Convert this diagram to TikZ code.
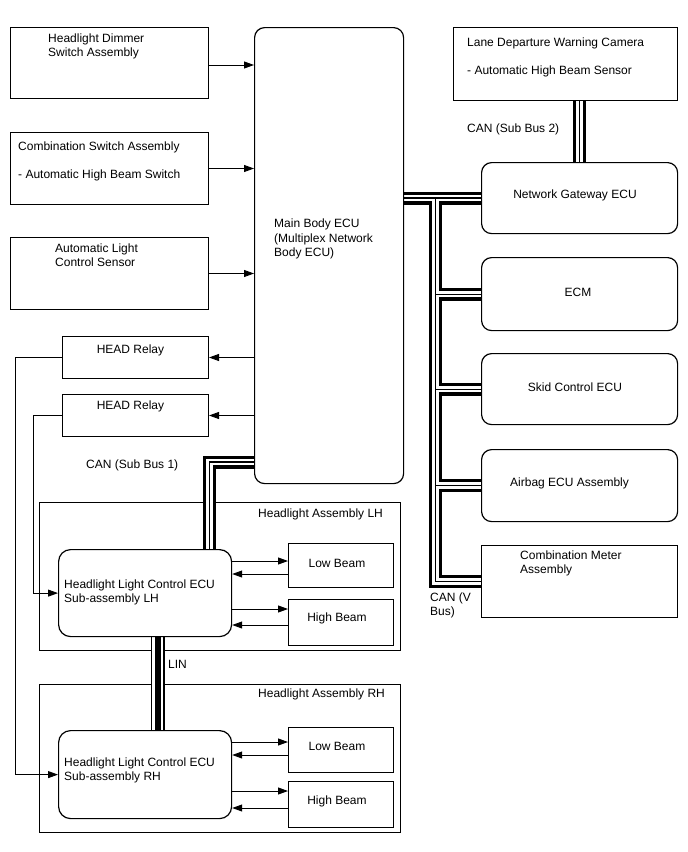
\documentclass[tikz,border=0pt]{standalone}
\usepackage{fontspec}
\setmainfont{Liberation Sans}
\usetikzlibrary{arrows.meta}
\pgfdeclarelayer{bgfill}
\pgfdeclarelayer{back}
\pgfdeclarelayer{buslayer}
\pgfsetlayers{bgfill,back,buslayer,main}
\begin{document}
\begin{tikzpicture}[x=1pt,y=-1pt,
  box/.style={draw, line width=1pt, inner sep=0pt, anchor=north west},
  rbox/.style={box, rounded corners=10pt, line width=1.2pt},
  txt/.style={inner sep=0pt, anchor=base west, font=\fontsize{12}{14}\selectfont},
  ctxt/.style={txt, anchor=base},
  arr/.style={line width=0.9pt, -{Triangle[length=10pt,width=7pt]}},
  wire/.style={line width=0.9pt},
]
\path[use as bounding box] (0,0) rectangle (688,852);
\begin{pgfonlayer}{bgfill}
\fill[white] (0,0) rectangle (688,852);
\end{pgfonlayer}

% containers (behind buses)
\begin{pgfonlayer}{back}
\node[box, minimum width=361pt, minimum height=148pt] (asmL) at (39,502) {};
\node[box, minimum width=361pt, minimum height=148pt] (asmR) at (39,684) {};
\end{pgfonlayer}

% boxes
\node[box, minimum width=198pt, minimum height=71pt] (dim) at (10,27) {};
\node[box, minimum width=198pt, minimum height=72pt] (comb) at (10,132) {};
\node[box, minimum width=198pt, minimum height=72pt] (sens) at (10,237) {};
\node[box, minimum width=146pt, minimum height=42pt] (rel1) at (62,336) {};
\node[box, minimum width=146pt, minimum height=42pt] (rel2) at (62,394) {};
\node[rbox, minimum width=149pt, minimum height=456pt] (main) at (254,27) {};
\node[box, minimum width=224pt, minimum height=73pt] (ldw) at (453,27) {};
\node[rbox, minimum width=196pt, minimum height=71pt] (gw) at (481,162) {};
\node[rbox, minimum width=196pt, minimum height=73pt] (ecm) at (481,257) {};
\node[rbox, minimum width=196pt, minimum height=71pt] (skid) at (481,353) {};
\node[rbox, minimum width=196pt, minimum height=72pt] (air) at (481,449) {};
\node[box, minimum width=196pt, minimum height=72pt] (cmb) at (481,545) {};
\node[rbox, rounded corners=12pt, minimum width=173pt, minimum height=87pt] (ecuL) at (58,549) {};
\node[box, minimum width=105pt, minimum height=44pt] (lbL) at (288,543) {};
\node[box, minimum width=105pt, minimum height=46pt] (hbL) at (288,599) {};
\node[rbox, rounded corners=12pt, minimum width=173pt, minimum height=88pt] (ecuR) at (58,730) {};
\node[box, minimum width=105pt, minimum height=45pt] (lbR) at (288,727) {};
\node[box, minimum width=105pt, minimum height=46pt] (hbR) at (288,781) {};

% junction coordinates
\coordinate (j1) at (435.5,198);
\coordinate (sb1) at (209.5,462);
\coordinate (lin) at (157.5,640);
\coordinate (w1) at (15,0);
\coordinate (w2) at (33,0);

% buses
\begin{pgfonlayer}{buslayer}
\foreach \w/\c in {13pt/black, 6.6pt/white, 1.2pt/black}{
  \draw[line width=\w, draw=\c, line join=miter]
    (main.east |- j1) -- (gw.west |- j1)
    (j1) -- (j1 |- cmb.west) -- (cmb.west)
    (j1 |- ecm.west) -- (ecm.west)
    (j1 |- skid.west) -- (skid.west)
    (j1 |- air.west) -- (air.west)
    (gw.north |- ldw.south) -- (gw.north)
    (main.west |- sb1) -- (sb1) -- (sb1 |- ecuL.north);
}
\foreach \w/\c in {14pt/black, 11.4pt/white, 6pt/black}{
  \draw[line width=\w, draw=\c] (lin |- ecuL.south) -- (lin |- ecuR.north);
}
\end{pgfonlayer}

% input arrows
\coordinate (a1) at (254,65);
\draw[arr] (dim.east |- a1) -- (a1);
\draw[arr] (comb.east) -- (main.west |- comb.east);
\draw[arr] (sens.east) -- (main.west |- sens.east);
\draw[arr] (main.west |- rel1.east) -- (rel1.east);
\draw[arr] (main.west |- rel2.east) -- (rel2.east);

% relay wires
\draw[arr] (rel1.west) -- (rel1.west -| w1) -- (w1 |- ecuR.west) -- (ecuR.west);
\draw[arr] (rel2.west) -- (rel2.west -| w2) -- (w2 |- ecuL.west) -- (ecuL.west);

% beam arrows
\coordinate (b1) at (288,561);
\coordinate (b2) at (288,574);
\coordinate (b3) at (288,609);
\coordinate (b4) at (288,625);
\coordinate (b5) at (288,742);
\coordinate (b6) at (288,755);
\coordinate (b7) at (288,791);
\coordinate (b8) at (288,808);
\draw[arr] (ecuL.east |- b1) -- (b1);
\draw[arr] (b2) -- (ecuL.east |- b2);
\draw[arr] (ecuL.east |- b3) -- (b3);
\draw[arr] (b4) -- (ecuL.east |- b4);
\draw[arr] (ecuR.east |- b5) -- (b5);
\draw[arr] (b6) -- (ecuR.east |- b6);
\draw[arr] (ecuR.east |- b7) -- (b7);
\draw[arr] (b8) -- (ecuR.east |- b8);

% texts
\node[txt] (t1) at (48,42) {Headlight Dimmer};
\node[txt] (t2) at (48,56) {Switch Assembly};
\node[txt] (t3) at (18,150) {Combination Switch Assembly};
\node[txt] (t4) at (18,178) {- Automatic High Beam Switch};
\node[txt] (t5) at (55,252) {Automatic Light};
\node[txt] (t6) at (55,266) {Control Sensor};
\node[ctxt] (t7) at (130.5,353) {HEAD Relay};
\node[ctxt] (t8) at (130.5,409) {HEAD Relay};
\node[txt] (t9) at (274,227) {Main Body ECU};
\node[txt] (t10) at (274,242) {(Multiplex Network};
\node[txt] (t11) at (274,256) {Body ECU)};
\node[txt] (t12) at (467,46) {Lane Departure Warning Camera};
\node[txt] (t13) at (467,74) {- Automatic High Beam Sensor};
\node[txt] (t14) at (467,132) {CAN (Sub Bus 2)};
\node[ctxt] (t15) at (575,198) {Network Gateway ECU};
\node[ctxt] (t16) at (578,296) {ECM};
\node[ctxt] (t17) at (575,391) {Skid Control ECU};
\node[txt] (t18) at (510,486) {Airbag ECU Assembly};
\node[txt] (t19) at (520,559) {Combination Meter};
\node[txt] (t20) at (520,573) {Assembly};
\node[txt] (t21) at (430,601) {CAN (V};
\node[txt] (t22) at (430,615) {Bus)};
\node[txt] (t23) at (86,468) {CAN (Sub Bus 1)};
\node[txt] (t24) at (258,517) {Headlight Assembly LH};
\node[txt] (t25) at (64,588) {Headlight Light Control ECU};
\node[txt] (t26) at (64,602) {Sub-assembly LH};
\node[ctxt] (t27) at (337,567) {Low Beam};
\node[ctxt] (t28) at (337,621) {High Beam};
\node[txt] (t29) at (168,668) {LIN};
\node[txt] (t30) at (258,697) {Headlight Assembly RH};
\node[txt] (t31) at (64,766) {Headlight Light Control ECU};
\node[txt] (t32) at (64,780) {Sub-assembly RH};
\node[ctxt] (t33) at (337,750) {Low Beam};
\node[ctxt] (t34) at (337,804) {High Beam};
\end{tikzpicture}
\end{document}
